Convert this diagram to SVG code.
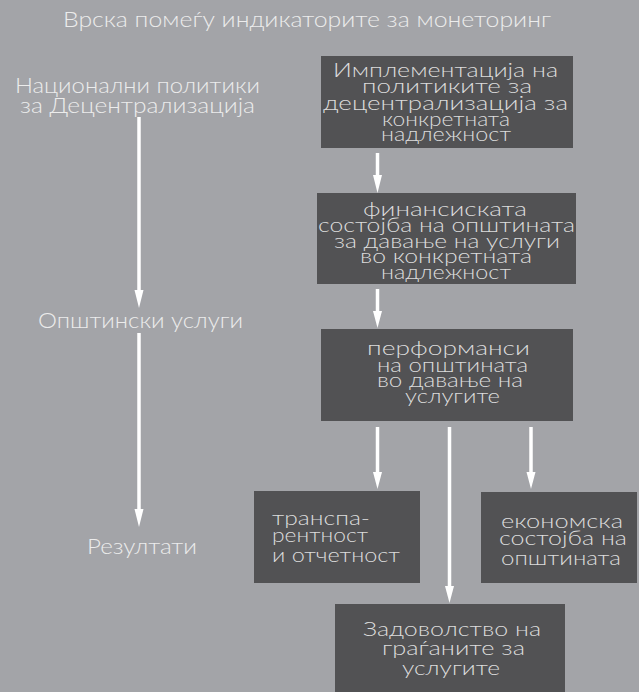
<svg xmlns="http://www.w3.org/2000/svg" width="639" height="692" viewBox="0 0 639 692">
<defs>
<style>
.bg{fill:#a3a4a8}
.box{fill:#525254}
.t{font-family:Lato,Inter,"Liberation Sans",sans-serif;font-weight:300;fill:#ececec;font-size:21px}
.tb{font-family:Lato,Inter,"Liberation Sans",sans-serif;font-weight:300;fill:#dcdcdc;font-size:19px}
.ln{stroke:#ffffff;stroke-width:3.5;fill:none}
.hd{fill:#ffffff}
</style>
</defs>
<rect class="bg" x="0" y="0" width="639" height="692"/>
<g id="title"><text class="t" x="63" y="27" textLength="488" lengthAdjust="spacingAndGlyphs">Врска помеѓу индикаторите за монеторинг</text></g>
<g id="left-policies"><text class="t" x="15" y="93" textLength="245" lengthAdjust="spacingAndGlyphs">Национални политики</text><text class="t" x="20" y="113" textLength="235" lengthAdjust="spacingAndGlyphs">за Децентрализација</text></g>
<g id="left-services"><text class="t" x="38" y="328" textLength="205" lengthAdjust="spacingAndGlyphs">Општински услуги</text></g>
<g id="left-results"><text class="t" x="87" y="554" textLength="110" lengthAdjust="spacingAndGlyphs">Резултати</text></g>
<g id="box1"><rect class="box" x="321" y="56" width="252" height="92"/>
<text class="tb" x="333" y="77" textLength="225" lengthAdjust="spacingAndGlyphs">Имплементација на</text>
<text class="tb" x="362" y="93" textLength="170" lengthAdjust="spacingAndGlyphs">политиките за</text>
<text class="tb" x="323" y="110" textLength="245" lengthAdjust="spacingAndGlyphs">децентрализација за</text>
<text class="tb" x="382" y="126" textLength="128" lengthAdjust="spacingAndGlyphs">конкретната</text>
<text class="tb" x="381" y="141" textLength="130" lengthAdjust="spacingAndGlyphs">надлежност</text></g>
<g id="box2"><rect class="box" x="317" y="193" width="259" height="91"/>
<text class="tb" x="363" y="216" textLength="164" lengthAdjust="spacingAndGlyphs">финансиската</text>
<text class="tb" x="318" y="232" textLength="257" lengthAdjust="spacingAndGlyphs">состојба на општината</text>
<text class="tb" x="334" y="248" textLength="226" lengthAdjust="spacingAndGlyphs">за давање на услуги</text>
<text class="tb" x="360" y="263" textLength="172" lengthAdjust="spacingAndGlyphs">во конкретната</text>
<text class="tb" x="381" y="279" textLength="130" lengthAdjust="spacingAndGlyphs">надлежност</text></g>
<g id="box3"><rect class="box" x="321" y="329" width="252" height="92"/>
<text class="tb" x="367" y="355" textLength="163" lengthAdjust="spacingAndGlyphs">перформанси</text>
<text class="tb" x="377" y="372" textLength="151" lengthAdjust="spacingAndGlyphs">на општината</text>
<text class="tb" x="377" y="387" textLength="146" lengthAdjust="spacingAndGlyphs">во давање на</text>
<text class="tb" x="405" y="403" textLength="95" lengthAdjust="spacingAndGlyphs">услугите</text></g>
<g id="box4"><rect class="box" x="254" y="491" width="166" height="92"/>
<text class="tb" x="272" y="525" textLength="98" lengthAdjust="spacingAndGlyphs">транспа-</text>
<text class="tb" x="272" y="542" textLength="96" lengthAdjust="spacingAndGlyphs">рентност</text>
<text class="tb" x="272" y="562" textLength="128" lengthAdjust="spacingAndGlyphs">и отчетност</text></g>
<g id="box5"><rect class="box" x="481" y="492" width="156" height="91"/>
<text class="tb" x="501" y="528" textLength="122" lengthAdjust="spacingAndGlyphs">економска</text>
<text class="tb" x="499" y="545" textLength="128" lengthAdjust="spacingAndGlyphs">состојба на</text>
<text class="tb" x="501" y="565" textLength="120" lengthAdjust="spacingAndGlyphs">општината</text></g>
<g id="box6"><rect class="box" x="335" y="604" width="230" height="88"/>
<text class="tb" x="363" y="636" textLength="178" lengthAdjust="spacingAndGlyphs">Задоволство на</text>
<text class="tb" x="382" y="655" textLength="143" lengthAdjust="spacingAndGlyphs">граѓаните за</text>
<text class="tb" x="402" y="675" textLength="98" lengthAdjust="spacingAndGlyphs">услугите</text></g>
<g id="connectors">
<line class="ln" x1="139" y1="117" x2="139" y2="292"/><polygon class="hd" points="134.5,290 143.5,290 139,308"/>
<line class="ln" x1="139" y1="333" x2="139" y2="511"/><polygon class="hd" points="134.5,509 143.5,509 139,527"/>
<line class="ln" x1="377.5" y1="153" x2="377.5" y2="177"/><polygon class="hd" points="373,175 382,175 377.5,193"/>
<line class="ln" x1="377.5" y1="289" x2="377.5" y2="313"/><polygon class="hd" points="373,311 382,311 377.5,328"/>
<line class="ln" x1="377.5" y1="427" x2="377.5" y2="474"/><polygon class="hd" points="373,472 382,472 377.5,489"/>
<line class="ln" x1="531" y1="427" x2="531" y2="474"/><polygon class="hd" points="526.5,472 535.5,472 531,489"/>
<line class="ln" x1="449.5" y1="427" x2="449.5" y2="588"/><polygon class="hd" points="445,586 454,586 449.5,603"/>
</g>
</svg>
